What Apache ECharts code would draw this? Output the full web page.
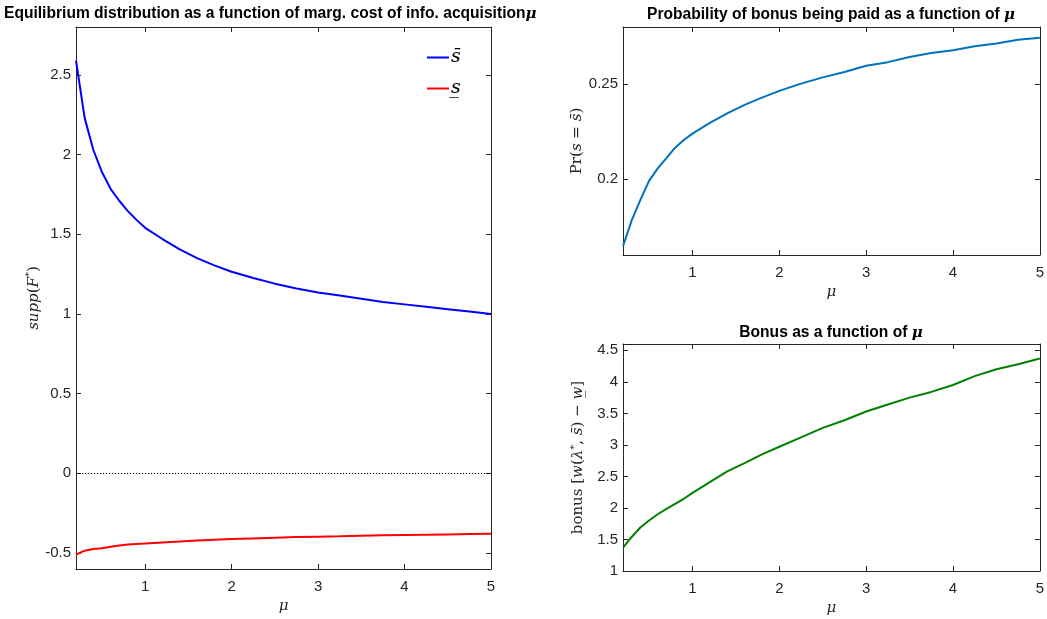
<!DOCTYPE html>
<html>
<head>
<meta charset="utf-8">
<script src="https://cdn.jsdelivr.net/npm/echarts@6/dist/echarts.min.js"></script>
<style>html,body{margin:0;padding:0;background:#fff}#c{width:1047px;height:619px}</style>
</head>
<body>
<div id="c"></div>
<script>
// ---- data ----
const mu        = [0.2, 0.3, 0.4, 0.5, 0.6, 0.7, 0.8, 0.9, 1.0, 1.2, 1.4, 1.6, 1.8, 2.0, 2.25, 2.5, 2.75, 3.0, 3.25, 3.5, 3.75, 4.0, 4.25, 4.5, 4.75, 5.0];
const sUpper    = [2.59, 2.23, 2.03, 1.89, 1.785, 1.71, 1.645, 1.59, 1.54, 1.47, 1.405, 1.35, 1.305, 1.265, 1.225, 1.19, 1.16, 1.135, 1.115, 1.095, 1.075, 1.06, 1.045, 1.03, 1.015, 1.0];
const sLower    = [-0.51, -0.485, -0.475, -0.47, -0.46, -0.452, -0.447, -0.443, -0.44, -0.433, -0.427, -0.421, -0.416, -0.412, -0.408, -0.404, -0.400, -0.397, -0.395, -0.392, -0.389, -0.387, -0.385, -0.383, -0.381, -0.379];
const probBonus = [0.1646, 0.1782, 0.1890, 0.1990, 0.2056, 0.2110, 0.2165, 0.2205, 0.2239, 0.2295, 0.2345, 0.2390, 0.2428, 0.2464, 0.2502, 0.2535, 0.2563, 0.2596, 0.2615, 0.2642, 0.2663, 0.2678, 0.2699, 0.2713, 0.2733, 0.2743];
const bonus     = [1.37, 1.54, 1.69, 1.80, 1.90, 1.985, 2.065, 2.145, 2.24, 2.41, 2.58, 2.71, 2.85, 2.97, 3.12, 3.27, 3.39, 3.53, 3.64, 3.75, 3.84, 3.95, 4.09, 4.20, 4.28, 4.37];
const xTicks      = [1, 2, 3, 4, 5];
const yTicksLeft  = [-0.5, 0, 0.5, 1, 1.5, 2, 2.5];
const yTicksProb  = [0.2, 0.25];
const yTicksBonus = [1, 1.5, 2, 2.5, 3, 3.5, 4, 4.5];
const legendNames = ['s\u0304', 's\u0332'];

const zip = (xs, ys) => xs.map((x, i) => [x, ys[i]]);

const SANS = '"Liberation Sans", Arial, Helvetica, sans-serif';
const SERIF = '"DejaVu Serif", "Liberation Serif", serif';
const AX = '#262626';

const rich = {
  it:  {fontFamily: SERIF, fontStyle: 'italic', fontSize: 15, color: AX},
  rm:  {fontFamily: SERIF, fontSize: 15, color: AX},
  sup: {fontFamily: SERIF, fontSize: 10, color: AX, verticalAlign: 'top', padding: [0, 0, 8, 0]},
  b:   {fontFamily: SANS, fontWeight: 'bold', fontSize: 15.6, color: '#000'},
  m:   {fontFamily: SERIF, fontStyle: 'italic', fontWeight: 'bold', fontSize: 15, color: '#000'}
};

function xAx(grid, pos, ticks, name) {
  const main = pos === 'bottom';
  return {
    type: 'value', gridIndex: grid, position: pos, min: 0.2, max: 5,
    axisLine: {show: true, onZero: false, lineStyle: {color: AX, width: 1}},
    axisTick: {show: true, inside: true, length: 5, customValues: ticks, lineStyle: {color: AX}},
    axisLabel: {show: main, customValues: ticks, margin: 10, fontFamily: SANS, fontSize: 15, color: AX},
    splitLine: {show: false},
    name: main ? name : '', nameLocation: 'middle', nameGap: 30,
    nameTextStyle: {rich: rich}
  };
}
function yAx(grid, pos, min, max, ticks, name, gap) {
  const main = pos === 'left';
  return {
    type: 'value', gridIndex: grid, position: pos, min: min, max: max,
    axisLine: {show: true, onZero: false, lineStyle: {color: AX, width: 1}},
    axisTick: {show: true, inside: true, length: 5, customValues: ticks, lineStyle: {color: AX}},
    axisLabel: {show: main, customValues: ticks, margin: 5, fontFamily: SANS, fontSize: 15, color: AX},
    splitLine: {show: false},
    name: main ? name : '', nameLocation: 'middle', nameRotate: 90, nameGap: gap,
    nameTextStyle: {rich: rich}
  };
}

const muName = '{it|\u03bc}';

const option = {
  animation: false,
  backgroundColor: '#fff',
  title: [
    {text: '{b|Equilibrium distribution as a function of marg. cost of info. acquisition}{m|\u03bc}',
     left: 4, top: 6, padding: 0, textStyle: {rich: rich}},
    {text: '{b|Probability of bonus being paid as a function of }{m|\u03bc}',
     left: 831, top: 7, padding: 0, textAlign: 'center', textStyle: {rich: rich}},
    {text: '{b|Bonus as a function of }{m|\u03bc}',
     left: 831, top: 325, padding: 0, textAlign: 'center', textStyle: {rich: rich}}
  ],
  legend: {
    data: legendNames, orient: 'vertical', left: 427, top: 48, padding: 0,
    icon: 'rect', itemWidth: 22, itemHeight: 2, itemGap: 12,
    textStyle: {fontFamily: SERIF, fontStyle: 'italic', fontSize: 19, color: '#000', padding: [0, 0, 0, -3]},
    selectedMode: false
  },
  grid: [
    {left: 76, top: 27, width: 415, height: 544},
    {left: 623, top: 27, width: 417, height: 228},
    {left: 623, top: 344, width: 417, height: 227}
  ],
  xAxis: [
    xAx(0, 'bottom', xTicks, muName), xAx(0, 'top', xTicks),
    xAx(1, 'bottom', xTicks, muName), xAx(1, 'top', xTicks),
    xAx(2, 'bottom', xTicks, muName), xAx(2, 'top', xTicks)
  ],
  yAxis: [
    yAx(0, 'left', -0.6, 2.8, yTicksLeft, '{it|supp}{rm|(}{it|F}{sup|*}{rm|)}', 26),
    yAx(0, 'right', -0.6, 2.8, yTicksLeft),
    yAx(1, 'left', 0.16, 0.28, yTicksProb, '{rm|Pr(}{it|s}{rm| = }{it|s\u0304}{rm|)}', 37),
    yAx(1, 'right', 0.16, 0.28, yTicksProb),
    yAx(2, 'left', 1, 4.6, yTicksBonus, '{rm|bonus [}{it|w}{rm|(}{it|\u03bb}{sup|*}{rm|, }{it|s\u0304}{rm|) \u2212 }{it|w\u0332}{rm|]}', 36),
    yAx(2, 'right', 1, 4.6, yTicksBonus)
  ],
  series: [
    {name: legendNames[0], type: 'line', xAxisIndex: 0, yAxisIndex: 0, data: zip(mu, sUpper),
     showSymbol: false, color: '#0000ff', lineStyle: {width: 2, color: '#0000ff'}},
    {name: legendNames[1], type: 'line', xAxisIndex: 0, yAxisIndex: 0, data: zip(mu, sLower),
     showSymbol: false, color: '#ff0000', lineStyle: {width: 2, color: '#ff0000'},
     markLine: {silent: true, symbol: 'none', label: {show: false},
       lineStyle: {type: [1.2, 1.8], color: '#000', width: 1.2}, data: [{yAxis: 0}]}},
    {name: 'prob', type: 'line', xAxisIndex: 2, yAxisIndex: 2, data: zip(mu, probBonus),
     showSymbol: false, lineStyle: {width: 2, color: '#0072bd'}},
    {name: 'bonus', type: 'line', xAxisIndex: 4, yAxisIndex: 4, data: zip(mu, bonus),
     showSymbol: false, lineStyle: {width: 2, color: '#008000'}}
  ]
};

const chart = echarts.init(document.getElementById('c'), null, {renderer: 'canvas'});
chart.setOption(option);
</script>
</body>
</html>
